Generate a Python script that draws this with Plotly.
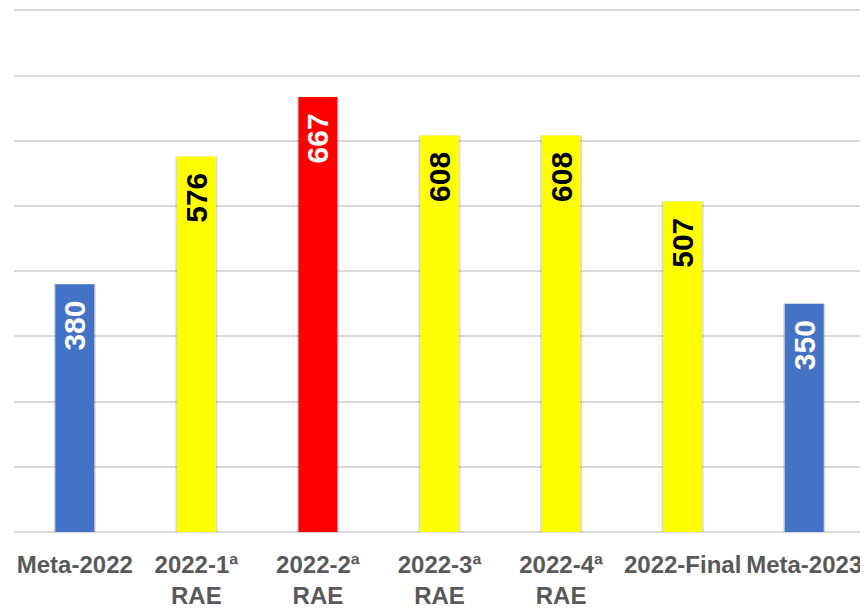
import plotly.graph_objects as go

categories = ["Meta-2022", "2022-1ª<br>RAE", "2022-2ª<br>RAE", "2022-3ª<br>RAE",
              "2022-4ª<br>RAE", "2022-Final", "Meta-2023"]
values = [380, 576, 667, 608, 608, 507, 350]
bar_colors = ["#4472C4", "#FFFF00", "#FF0000", "#FFFF00", "#FFFF00", "#FFFF00", "#4472C4"]
label_colors = ["#FFFFFF", "#000000", "#FFFFFF", "#000000", "#000000", "#000000", "#FFFFFF"]

pad = "<span style='font-size:24px'>\u00a0\u00a0</span>"

fig = go.Figure()
# soft shadow behind bars
fig.add_trace(go.Bar(
    x=categories, y=values, width=0.345,
    marker=dict(color="rgba(0,0,0,0.15)", line=dict(width=0)),
    hoverinfo="skip", showlegend=False,
))
fig.add_trace(go.Bar(
    x=categories, y=values, width=0.32,
    marker=dict(color=bar_colors, line=dict(width=0)),
    text=[f"{v}{pad}" for v in values],
    textposition="inside", insidetextanchor="end", textangle=-90,
    textfont=dict(family="Liberation Sans", size=30, color=label_colors, weight="bold"),
    constraintext="none",
    showlegend=False,
))
fig.update_layout(
    width=860, height=602,
    margin=dict(l=6, r=3, t=1, b=78, autoexpand=False),
    paper_bgcolor="white", plot_bgcolor="white",
    barmode="overlay",
    xaxis=dict(
        range=[-0.5, 6.5], showgrid=False, showline=False, ticks="",
        tickangle=0, automargin=False,
        tickfont=dict(family="Liberation Sans", size=24, color="#595959", weight="bold"),
        ticklabelstandoff=16,
    ),
    yaxis=dict(
        range=[0, 802], dtick=100, showticklabels=False, ticks="",
        showgrid=True, gridcolor="#D9D9D9", gridwidth=2,
        zeroline=True, zerolinecolor="#D9D9D9", zerolinewidth=2,
    ),
)
fig.write_html("out.html")
